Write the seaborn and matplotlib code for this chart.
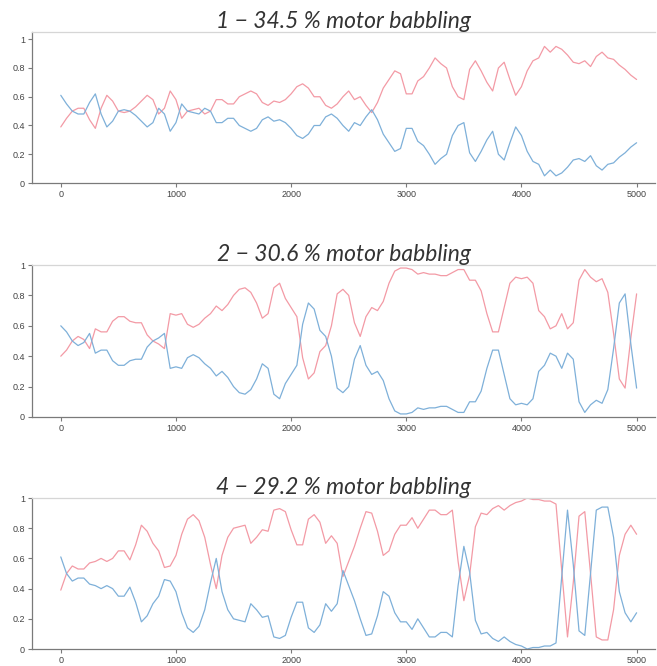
import matplotlib
matplotlib.use("Agg")
import matplotlib.pyplot as plt
import numpy as np
import pandas as pd
import seaborn as sns
from matplotlib.ticker import FuncFormatter

# ==========================================
# data: share of each motor, sampled every 50 steps (0 .. 5000)
# ==========================================
STEPS = list(range(0, 5001, 50))

TITLES = ["1 − 34.5 % motor babbling",
          "2 − 30.6 % motor babbling",
          "4 − 29.2 % motor babbling"]

red_1 = [0.39, 0.45, 0.50, 0.52, 0.52, 0.44, 0.38, 0.52, 0.61, 0.57,
         0.50, 0.49, 0.50, 0.53, 0.57, 0.61, 0.58, 0.48, 0.52, 0.64,
         0.58, 0.45, 0.50, 0.51, 0.52, 0.48, 0.50, 0.58, 0.58, 0.55,
         0.55, 0.60, 0.62, 0.64, 0.62, 0.56, 0.54, 0.57, 0.56, 0.58,
         0.62, 0.67, 0.69, 0.66, 0.60, 0.60, 0.54, 0.52, 0.55, 0.60,
         0.64, 0.58, 0.60, 0.54, 0.49, 0.56, 0.66, 0.72, 0.78, 0.76,
         0.62, 0.62, 0.71, 0.74, 0.80, 0.87, 0.83, 0.80, 0.67, 0.60,
         0.58, 0.79, 0.85, 0.78, 0.70, 0.64, 0.80, 0.84, 0.72, 0.61,
         0.67, 0.78, 0.85, 0.87, 0.95, 0.91, 0.95, 0.93, 0.89, 0.84,
         0.83, 0.85, 0.81, 0.88, 0.91, 0.87, 0.86, 0.82, 0.79, 0.75,
         0.72]
blue_1 = [0.61, 0.55, 0.50, 0.48, 0.48, 0.56, 0.62, 0.48, 0.39, 0.43,
          0.50, 0.51, 0.50, 0.47, 0.43, 0.39, 0.42, 0.52, 0.48, 0.36,
          0.42, 0.55, 0.50, 0.49, 0.48, 0.52, 0.50, 0.42, 0.42, 0.45,
          0.45, 0.40, 0.38, 0.36, 0.38, 0.44, 0.46, 0.43, 0.44, 0.42,
          0.38, 0.33, 0.31, 0.34, 0.40, 0.40, 0.46, 0.48, 0.45, 0.40,
          0.36, 0.42, 0.40, 0.46, 0.51, 0.44, 0.34, 0.28, 0.22, 0.24,
          0.38, 0.38, 0.29, 0.26, 0.20, 0.13, 0.17, 0.20, 0.33, 0.40,
          0.42, 0.21, 0.15, 0.22, 0.30, 0.36, 0.20, 0.16, 0.28, 0.39,
          0.33, 0.22, 0.15, 0.13, 0.05, 0.09, 0.05, 0.07, 0.11, 0.16,
          0.17, 0.15, 0.19, 0.12, 0.09, 0.13, 0.14, 0.18, 0.21, 0.25,
          0.28]

red_2 = [0.40, 0.44, 0.50, 0.53, 0.51, 0.45, 0.58, 0.56, 0.56, 0.63,
         0.66, 0.66, 0.63, 0.62, 0.62, 0.54, 0.50, 0.48, 0.45, 0.68,
         0.67, 0.68, 0.61, 0.59, 0.61, 0.65, 0.68, 0.73, 0.70, 0.74,
         0.80, 0.84, 0.85, 0.82, 0.75, 0.65, 0.68, 0.85, 0.88, 0.78,
         0.72, 0.66, 0.39, 0.25, 0.29, 0.43, 0.47, 0.60, 0.81, 0.84,
         0.80, 0.62, 0.53, 0.66, 0.72, 0.70, 0.76, 0.88, 0.96, 0.98,
         0.98, 0.97, 0.94, 0.95, 0.94, 0.94, 0.93, 0.93, 0.95, 0.97,
         0.97, 0.90, 0.90, 0.83, 0.68, 0.56, 0.56, 0.72, 0.88, 0.92,
         0.91, 0.92, 0.88, 0.70, 0.66, 0.58, 0.60, 0.68, 0.58, 0.62,
         0.90, 0.97, 0.92, 0.89, 0.91, 0.82, 0.55, 0.25, 0.19, 0.52,
         0.81]
blue_2 = [0.60, 0.56, 0.50, 0.47, 0.49, 0.55, 0.42, 0.44, 0.44, 0.37,
          0.34, 0.34, 0.37, 0.38, 0.38, 0.46, 0.50, 0.52, 0.55, 0.32,
          0.33, 0.32, 0.39, 0.41, 0.39, 0.35, 0.32, 0.27, 0.30, 0.26,
          0.20, 0.16, 0.15, 0.18, 0.25, 0.35, 0.32, 0.15, 0.12, 0.22,
          0.28, 0.34, 0.61, 0.75, 0.71, 0.57, 0.53, 0.40, 0.19, 0.16,
          0.20, 0.38, 0.47, 0.34, 0.28, 0.30, 0.24, 0.12, 0.04, 0.02,
          0.02, 0.03, 0.06, 0.05, 0.06, 0.06, 0.07, 0.07, 0.05, 0.03,
          0.03, 0.10, 0.10, 0.17, 0.32, 0.44, 0.44, 0.28, 0.12, 0.08,
          0.09, 0.08, 0.12, 0.30, 0.34, 0.42, 0.40, 0.32, 0.42, 0.38,
          0.10, 0.03, 0.08, 0.11, 0.09, 0.18, 0.45, 0.75, 0.81, 0.48,
          0.19]

red_4 = [0.39, 0.50, 0.55, 0.53, 0.53, 0.57, 0.58, 0.60, 0.58, 0.60,
         0.65, 0.65, 0.59, 0.69, 0.82, 0.78, 0.70, 0.65, 0.54, 0.55,
         0.62, 0.76, 0.86, 0.89, 0.85, 0.74, 0.56, 0.40, 0.62, 0.74,
         0.80, 0.81, 0.82, 0.70, 0.74, 0.79, 0.78, 0.92, 0.93, 0.91,
         0.79, 0.69, 0.69, 0.86, 0.89, 0.84, 0.70, 0.75, 0.70, 0.48,
         0.58, 0.68, 0.80, 0.91, 0.90, 0.78, 0.62, 0.65, 0.76, 0.82,
         0.82, 0.87, 0.80, 0.86, 0.92, 0.92, 0.89, 0.89, 0.92, 0.58,
         0.32, 0.49, 0.81, 0.90, 0.89, 0.93, 0.95, 0.92, 0.95, 0.97,
         0.98, 1.00, 0.99, 0.99, 0.98, 0.98, 0.96, 0.52, 0.08, 0.44,
         0.88, 0.91, 0.50, 0.08, 0.06, 0.06, 0.26, 0.62, 0.76, 0.82,
         0.76]
blue_4 = [0.61, 0.50, 0.45, 0.47, 0.47, 0.43, 0.42, 0.40, 0.42, 0.40,
          0.35, 0.35, 0.41, 0.31, 0.18, 0.22, 0.30, 0.35, 0.46, 0.45,
          0.38, 0.24, 0.14, 0.11, 0.15, 0.26, 0.44, 0.60, 0.38, 0.26,
          0.20, 0.19, 0.18, 0.30, 0.26, 0.21, 0.22, 0.08, 0.07, 0.09,
          0.21, 0.31, 0.31, 0.14, 0.11, 0.16, 0.30, 0.25, 0.30, 0.52,
          0.42, 0.32, 0.20, 0.09, 0.10, 0.22, 0.38, 0.35, 0.24, 0.18,
          0.18, 0.13, 0.20, 0.14, 0.08, 0.08, 0.11, 0.11, 0.08, 0.42,
          0.68, 0.51, 0.19, 0.10, 0.11, 0.07, 0.05, 0.08, 0.05, 0.03,
          0.02, 0.00, 0.01, 0.01, 0.02, 0.02, 0.04, 0.48, 0.92, 0.56,
          0.12, 0.09, 0.50, 0.92, 0.94, 0.94, 0.74, 0.38, 0.24, 0.18,
          0.24]

Y_TOPS = [1.05, 1.0, 1.0]

C_RED = "#f39aa5"
C_BLUE = "#7eb0d9"
C_AXIS = "#7a7a7a"
C_TOP = "#d6d6d6"
C_TEXT = "#333333"

sns.set_theme(style="white")
plt.rcParams['font.family'] = ['Liberation Sans', 'DejaVu Sans']

fig = plt.figure(figsize=(6.57, 6.66), dpi=100)

# axes boxes in figure fractions (left, bottom, width, height)
boxes = [(0.0487, 0.7252, 0.9483, 0.2267),
         (0.0487, 0.3739, 0.9483, 0.2282),
         (0.0487, 0.0255, 0.9483, 0.2267)]

panels = [(red_1, blue_1), (red_2, blue_2), (red_4, blue_4)]

for box, (red, blue), title, ytop in zip(boxes, panels, TITLES, Y_TOPS):
    ax = fig.add_axes(box)
    df = pd.DataFrame({"step": STEPS, "red": red, "blue": blue})
    sns.lineplot(data=df, x="step", y="red", ax=ax, color=C_RED, linewidth=0.9)
    sns.lineplot(data=df, x="step", y="blue", ax=ax, color=C_BLUE, linewidth=0.9)

    ax.set_xlim(-250, 5160)
    ax.set_ylim(0, ytop)
    ax.set_xticks([0, 1000, 2000, 3000, 4000, 5000])
    ax.set_yticks([0, 0.2, 0.4, 0.6, 0.8, 1.0])
    ax.yaxis.set_major_formatter(FuncFormatter(lambda v, p: f"{v:g}"))
    ax.set_xlabel("")
    ax.set_ylabel("")

    ax.tick_params(axis="both", which="major", direction="out", length=3, width=0.8,
                   colors=C_AXIS, labelcolor="#444444", labelsize=6.5, pad=2,
                   left=True, bottom=True)
    for side in ["left", "bottom"]:
        ax.spines[side].set_color(C_AXIS)
        ax.spines[side].set_linewidth(0.9)
    ax.spines["top"].set_color(C_TOP)
    ax.spines["top"].set_linewidth(0.9)
    ax.spines["right"].set_visible(False)

    ax.set_title(title, family=["Lato", "DejaVu Sans"], style="italic",
                 fontsize=16.5, color=C_TEXT, pad=3)

plt.savefig("out.png", dpi=100)
plt.close()
